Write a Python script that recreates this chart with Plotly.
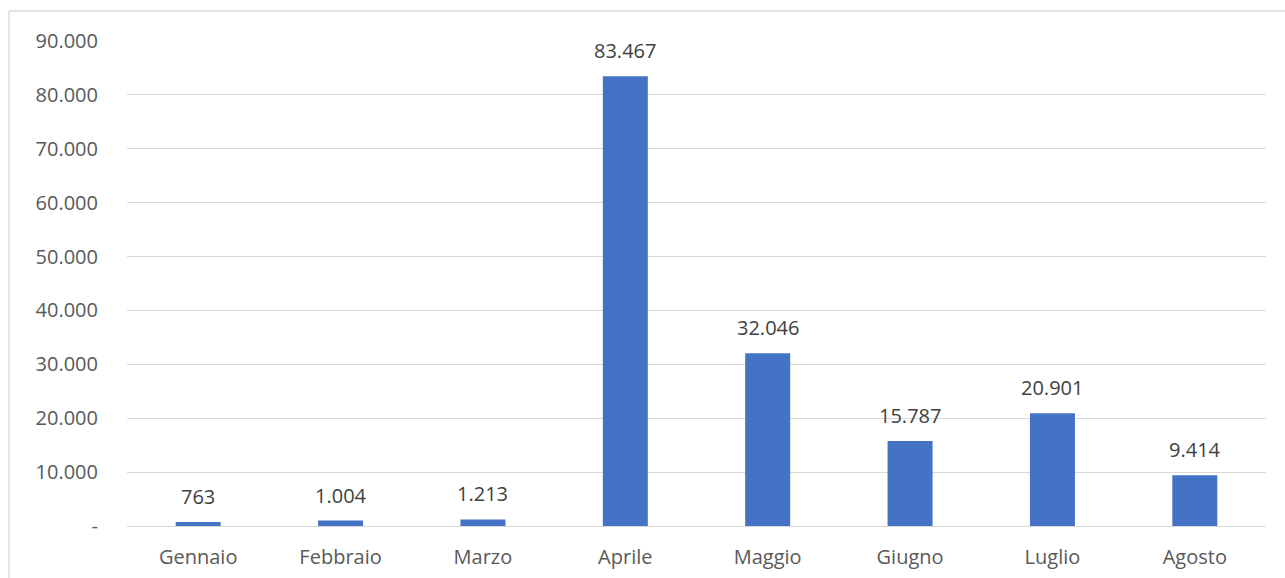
import plotly.graph_objects as go

months = ["Gennaio", "Febbraio", "Marzo", "Aprile", "Maggio", "Giugno", "Luglio", "Agosto"]
values = [763, 1004, 1213, 83467, 32046, 15787, 20901, 9414]
tick_vals = [0, 10000, 20000, 30000, 40000, 50000, 60000, 70000, 80000, 90000]
tick_text = ["-", "10.000", "20.000", "30.000", "40.000", "50.000", "60.000", "70.000", "80.000", "90.000"]

def fmt(v):
    return f"{v:,}".replace(",", ".")

fig = go.Figure(go.Bar(
    x=months, y=values,
    marker=dict(color="#4472C4", line=dict(width=0)),
    hoverinfo="x+y",
))

for m, v in zip(months, values):
    fig.add_annotation(x=m, y=v, text=fmt(v), showarrow=False,
                       xref="x", yref="y", yanchor="bottom", yshift=10,
                       font=dict(family="Open Sans", size=20, color="#404040"))

fig.update_layout(
    width=1285, height=578,
    margin=dict(l=127, r=19, t=41, b=52, autoexpand=False),
    paper_bgcolor="white", plot_bgcolor="white",
    bargap=0.684,
    showlegend=False,
    font=dict(family="Open Sans", size=20, color="#595959"),
    xaxis=dict(showgrid=False, showline=False, ticks="", ticklabelstandoff=17, automargin=False,
               tickfont=dict(size=20, color="#595959")),
    yaxis=dict(range=[0, 90000], tickvals=tick_vals, ticktext=tick_text, automargin=False,
               showgrid=True, gridcolor="#D9D9D9", gridwidth=1.3,
               zeroline=True, zerolinecolor="#D9D9D9", zerolinewidth=1.3,
               showline=False, ticks="", ticklabelstandoff=28,
               tickfont=dict(size=20, color="#595959")),
    shapes=[
        dict(type="line", xref="paper", yref="paper", x0=-0.1036, x1=-0.1036, y0=-0.2, y1=1.0619,
             line=dict(color="#D9D9D9", width=1.3)),
        dict(type="line", xref="paper", yref="paper", x0=-0.1036, x1=1.1, y0=1.0619, y1=1.0619,
             line=dict(color="#D9D9D9", width=1.3)),
    ],
)

fig.write_html("out.html")
